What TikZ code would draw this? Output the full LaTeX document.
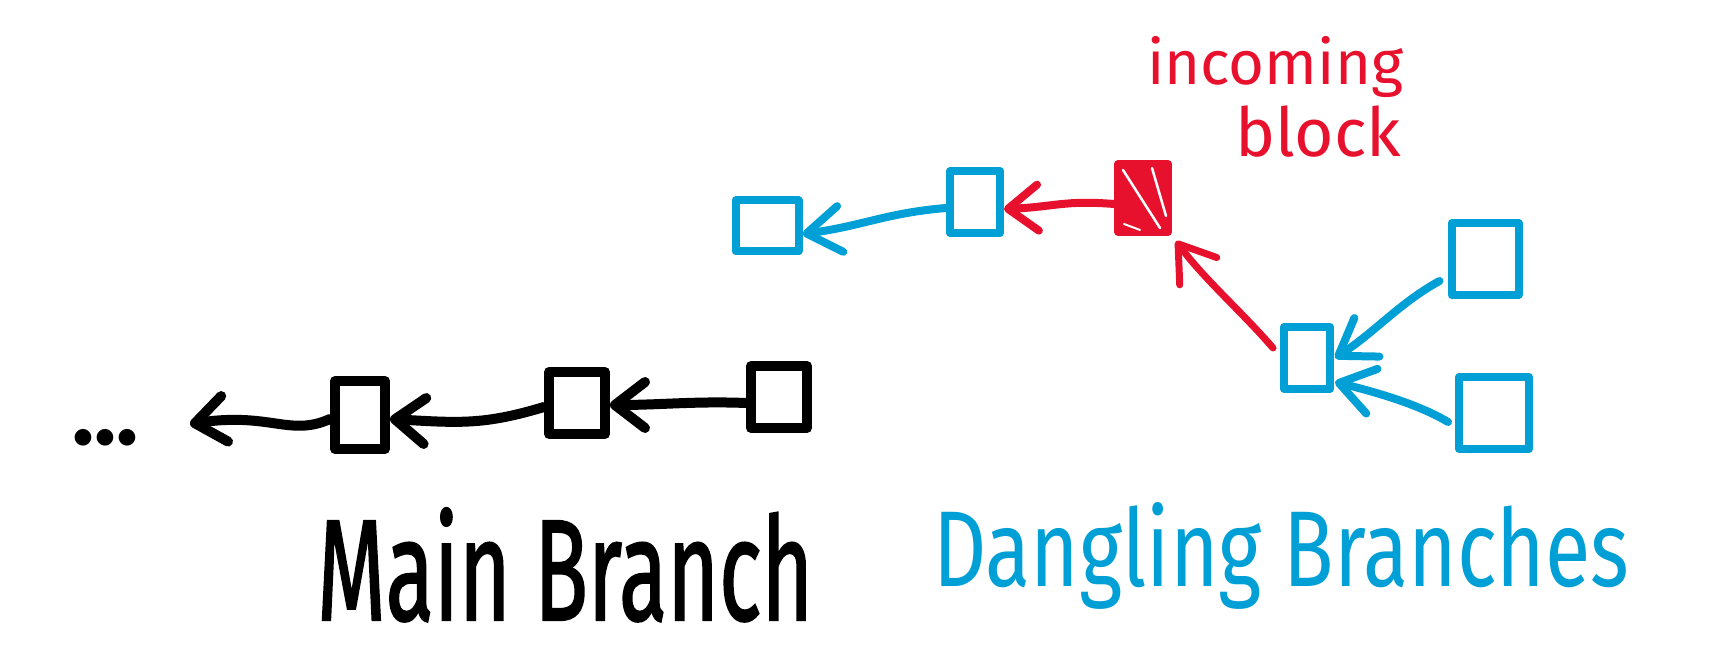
\documentclass[tikz,border=0pt]{standalone}
\usepackage{fontspec}
\setmainfont{Fira Sans}
\newfontfamily\inkfont{Fira Sans}[FakeBold=1.6]
\usetikzlibrary{arrows.meta}
\definecolor{inkblack}{RGB}{0,0,0}
\definecolor{skyblue}{RGB}{0,159,214}
\definecolor{hotred}{RGB}{232,17,45}
\begin{document}
\begin{tikzpicture}[x=1pt,y=-1pt,
  pen/.style={line width=#1, line cap=round, line join=round},
  sbox/.style 2 args={draw, pen=10pt, inner sep=0pt, minimum width=#1, minimum height=#2},
  barb/.style={-{Straight Barb[length=#1,width=46pt,round]}},
  lbl/.style={inner sep=0pt, outer sep=0pt}
]
\useasboundingbox (0,0) rectangle (1726,668);

% main branch
\node[lbl, anchor=base west, text=inkblack] (dots) at (72,444) {\resizebox{66pt}{!}{\bfseries ...}};
\node[sbox={50pt}{68pt}, color=inkblack] (b1) at (360,415) {};
\node[sbox={56pt}{62pt}, color=inkblack] (b2) at (577,403) {};
\node[sbox={56pt}{62pt}, color=inkblack] (b3) at (779,397) {};
\coordinate (tipL) at (190,424);

\draw[inkblack, pen=10pt, barb=30pt] ([yshift=-6pt]b3.west) .. controls +(-50,-2) and +(50,0) .. ([yshift=-2pt]b2.east);
\draw[inkblack, pen=10pt, barb=30pt] ([yshift=-4pt]b2.west) .. controls +(-60,18) and +(70,4) .. ([yshift=-4pt]b1.east);
\draw[inkblack, pen=10pt, barb=30pt] ([yshift=-4pt]b1.west) .. controls +(-40,18) and +(80,-12) .. (tipL);

% upper dangling row
\node[sbox={63pt}{51pt}, pen=8pt, color=skyblue] (bA) at (767,226) {};
\node[sbox={50pt}{62pt}, pen=8pt, color=skyblue] (bB) at (975,202) {};
\node[sbox={50pt}{68pt}, pen=8pt, color=hotred, fill=hotred] (bC) at (1143,198) {};
\draw[white, pen=2.5pt] ([shift={(9,10)}]bC.north west) -- ([shift={(-12,-8)}]bC.south east);
\draw[white, pen=2.5pt] ([shift={(-20,8)}]bC.north east) -- ([shift={(-6,-20)}]bC.south east);
\draw[white, pen=2pt] ([shift={(10,-12)}]bC.south west) -- ([shift={(26,-6)}]bC.south west);

\draw[skyblue, pen=8pt, barb=34pt] ([yshift=-6pt]bB.west) .. controls +(-60,5) and +(60,-8) .. ([yshift=-8pt]bA.east);
\draw[hotred, pen=8pt, barb=30pt] ([yshift=-6pt]bC.west) .. controls +(-50,-4) and +(50,-2) .. ([yshift=-7pt]bB.east);

% lower dangling cluster
\node[sbox={46pt}{62pt}, pen=8pt, color=skyblue] (bD) at (1307,358) {};
\node[sbox={67pt}{72pt}, pen=8pt, color=skyblue] (bE) at (1485,259) {};
\node[sbox={70pt}{72pt}, pen=8pt, color=skyblue] (bF) at (1494,413) {};

\draw[hotred, pen=7pt, barb=34pt] ([shift={(-7,25)}]bD.north west) .. controls +(-30,-35) and +(28,38) .. ([shift={(4,5)}]bC.south east);
\draw[skyblue, pen=8pt, barb=34pt] ([shift={(-8,22)}]bE.west) .. controls +(-40,22) and +(40,-26) .. ([shift={(1,0)}]bD.east);
\draw[skyblue, pen=8pt, barb=34pt] ([shift={(-7,9)}]bF.west) .. controls +(-30,-18) and +(40,10) .. ([shift={(1,24)}]bD.east);

% labels
\node[lbl, anchor=base west, text=inkblack] (main) at (317,620) {\resizebox{496pt}{112pt}{\inkfont Main Branch}};
\node[lbl, anchor=base west, text=skyblue] (dang) at (933,586) {\resizebox{696pt}{84pt}{Dangling Branches}};
\node[lbl, anchor=base west, text=hotred] (inc) at (1147,85) {\resizebox{256pt}{!}{incoming}};
\node[lbl, anchor=base west, text=hotred] (blk) at (1235,157) {\resizebox{166pt}{!}{block}};
\end{tikzpicture}
\end{document}
